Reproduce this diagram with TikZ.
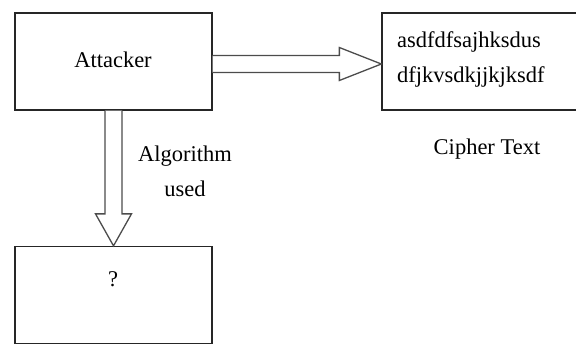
\documentclass[tikz,border=0pt]{standalone}
\usepackage{fontspec}
\setmainfont{Liberation Serif}
\usetikzlibrary{calc}
\begin{document}
\begin{tikzpicture}[x=1pt,y=-1pt,
  box/.style={draw=black!85,line width=1.3pt,minimum width=197pt,minimum height=97pt,inner sep=0pt},
  blockarrow/.style={draw=black!70,line width=1.3pt,fill=white,line join=miter},
  txt/.style={font=\fontsize{22.5}{35}\selectfont,inner sep=0pt}]
\useasboundingbox (0,0) rectangle (576,343);
\clip (0,0) rectangle (576,343);
% boxes
\node[box] (att) at (113.5,61.5) {};
\node[box,minimum width=200pt] (ciph) at (482,61.5) {};
\node[box] (unk) at (113.5,295) {};
% texts
\node[txt] (atttext) at (113,60) {Attacker};
\node[txt,anchor=north west,align=left] (ctext) at (397,31) {asdfdfsajhksdus\\dfjkvsdkjjkjksdf};
\node[txt] (clabel) at (487,149) {Cipher Text};
\node[txt,align=center] (alg) at (185,171) {Algorithm\\used};
\node[txt] (q) at (113,279) {?};
% block arrow from attacker to cipher text
\coordinate (r0) at ($(att.east)+(0,2.5)$);
\coordinate (rtip) at ($(ciph.west)+(0,2.5)$);
\draw[blockarrow] ($(r0)+(0,-8.5)$) -- ($(rtip)+(-42,-8.5)$) -- ($(rtip)+(-42,-16.5)$)
  -- (rtip) -- ($(rtip)+(-42,16.5)$) -- ($(rtip)+(-42,8.5)$) -- ($(r0)+(0,8.5)$);
% block arrow from attacker down to the unknown box
\coordinate (d0) at (att.south);
\coordinate (dtip) at (unk.north);
\draw[blockarrow] ($(d0)+(-8.5,0)$) -- ($(dtip)+(-8.5,-32)$) -- ($(dtip)+(-18,-32)$)
  -- (dtip) -- ($(dtip)+(18,-32)$) -- ($(dtip)+(8.5,-32)$) -- ($(d0)+(8.5,0)$);
\end{tikzpicture}
\end{document}
